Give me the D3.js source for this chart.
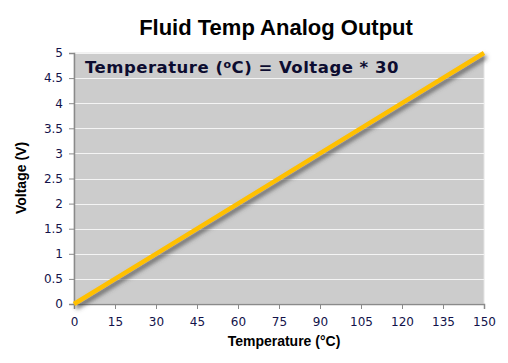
<!DOCTYPE html>
<html>
<head>
<meta charset="utf-8">
<script src="https://cdn.jsdelivr.net/npm/d3@7"></script>
<style>
  body { margin: 0; background: #fff; }
  svg { display: block; }
</style>
</head>
<body>
<div id="chart"></div>
<script>
// data
const temperature = [0, 30, 60, 90, 120, 150];
const voltage = [0, 1, 2, 3, 4, 5];
const xTicks = [0, 15, 30, 45, 60, 75, 90, 105, 120, 135, 150];
const yTicks = [0, 0.5, 1, 1.5, 2, 2.5, 3, 3.5, 4, 4.5, 5];

const W = 508, H = 363;
const margin = { top: 53, right: 24, bottom: 59, left: 74 };
const w = W - margin.left - margin.right,
    h = H - margin.top - margin.bottom;

const svg = d3.select("#chart").append("svg")
    .attr("width", W).attr("height", H);

// drop shadow for the line
const defs = svg.append("defs");
const f = defs.append("filter").attr("id", "shadow")
    .attr("x", "-10%").attr("y", "-10%").attr("width", "130%").attr("height", "130%");
f.append("feDropShadow").attr("dx", 2).attr("dy", 3.5).attr("stdDeviation", 2)
    .attr("flood-color", "#444").attr("flood-opacity", 0.75);

const x = d3.scaleLinear().domain([0, 150]).range([0, w]);
const y = d3.scaleLinear().domain([0, 5]).range([h, 0]);

const g = svg.append("g")
    .attr("transform", "translate(" + margin.left + "," + margin.top + ")");

// plot background
g.append("rect")
    .attr("width", w).attr("height", h)
    .attr("fill", "#cccccc")
    .attr("stroke", "#e4e4e4");

// gridlines
g.selectAll(".grid").data(yTicks.filter(d => d > 0))
    .enter().append("line")
    .attr("x1", 0).attr("x2", w)
    .attr("y1", d => Math.round(y(d)) + 0.5).attr("y2", d => Math.round(y(d)) + 0.5)
    .attr("stroke", "#f4f4f4").attr("stroke-width", 1);

const tickColor = "#12124a";

// y axis
const yAxis = g.append("g")
    .call(d3.axisLeft(y).tickValues(yTicks).tickSize(5).tickPadding(6)
        .tickFormat(d3.format("")));
yAxis.select(".domain").attr("stroke", "#8a8a8a").attr("stroke-width", 1.5);
yAxis.selectAll(".tick line").attr("stroke", "#8a8a8a");
yAxis.selectAll("text")
    .attr("fill", tickColor)
    .style("font-family", "Verdana, 'DejaVu Sans', sans-serif")
    .style("font-size", "12px");

// x axis
const xAxis = g.append("g")
    .attr("transform", "translate(0," + h + ")")
    .call(d3.axisBottom(x).tickValues(xTicks).tickSize(5).tickPadding(8));
xAxis.select(".domain").attr("stroke", "#8a8a8a").attr("stroke-width", 1.5);
xAxis.selectAll(".tick line").attr("stroke", "#8a8a8a");
xAxis.selectAll("text")
    .attr("fill", tickColor)
    .style("font-family", "Verdana, 'DejaVu Sans', sans-serif")
    .style("font-size", "12px");

// the line
const line = d3.line()
    .x((d, i) => x(temperature[i]))
    .y(d => y(d));

g.append("path")
    .datum(voltage)
    .attr("d", line)
    .attr("fill", "none")
    .attr("stroke", "#ffc000")
    .attr("stroke-width", 4.5)
    .attr("filter", "url(#shadow)");

// annotation
const note = g.append("text")
    .attr("x", 11).attr("y", 20)
    .attr("fill", "#0c0c30")
    .style("font-family", "Verdana, 'DejaVu Sans', sans-serif")
    .style("font-weight", "bold")
    .style("font-size", "16.5px")
    .style("letter-spacing", "0.5px");
note.append("tspan").text("Temperature (");
note.append("tspan").attr("dy", -5).style("font-size", "11px").text("o");
note.append("tspan").attr("dy", 5).text("C) = Voltage * 30");

// title
svg.append("text")
    .attr("x", 276).attr("y", 35)
    .attr("text-anchor", "middle")
    .style("font-family", "Arial, 'Liberation Sans', sans-serif")
    .style("font-weight", "bold")
    .style("font-size", "22px")
    .text("Fluid Temp Analog Output");

// axis titles
svg.append("text")
    .attr("x", 284).attr("y", 346)
    .attr("text-anchor", "middle")
    .style("font-family", "Arial, 'Liberation Sans', sans-serif")
    .style("font-weight", "bold")
    .style("font-size", "14px")
    .text("Temperature (\u00b0C)");

svg.append("text")
    .attr("transform", "translate(26," + 178 + ") rotate(-90)")
    .attr("text-anchor", "middle")
    .style("font-family", "Arial, 'Liberation Sans', sans-serif")
    .style("font-weight", "bold")
    .style("font-size", "14px")
    .text("Voltage (V)");
</script>
</body>
</html>
